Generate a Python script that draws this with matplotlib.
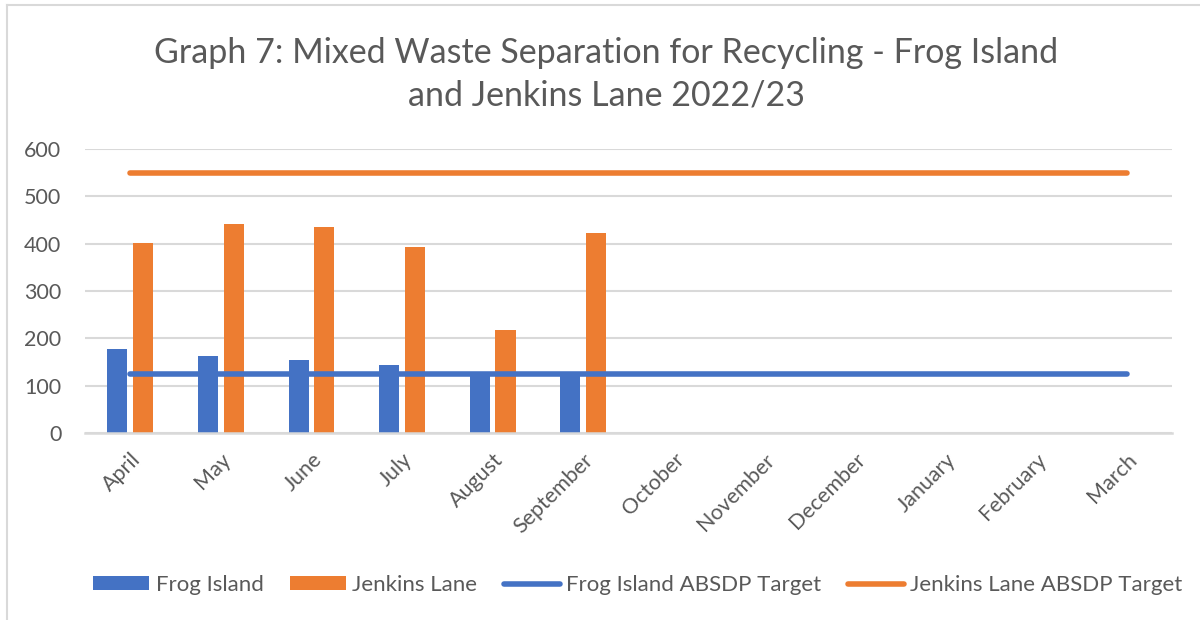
import matplotlib
matplotlib.use("Agg")
import matplotlib.pyplot as plt
import numpy as np
from matplotlib.lines import Line2D
from matplotlib.patches import Patch

months = ["April", "May", "June", "July", "August", "September", "October",
          "November", "December", "January", "February", "March"]
frog_island = [177, 162, 154, 143, 127, 126]
jenkins_lane = [402, 442, 435, 392, 217, 423]
frog_target = [125] * 12
jenkins_target = [550] * 12
yticks = [0, 100, 200, 300, 400, 500, 600]

BLUE = "#4472C4"
ORANGE = "#ED7D31"
TXT = "#595959"
GRID = "#D9D9D9"
FONT = "Lato"

plt.rcParams["font.family"] = [FONT, "DejaVu Sans"]

fig = plt.figure(figsize=(12, 6.2), dpi=100)
ax = fig.add_axes([85 / 1200, 1 - 433 / 620, (1172 - 85) / 1200, (433 - 149) / 620])

x = np.arange(len(months))
w = 0.222
off = 0.142
ax.bar(x[:len(frog_island)] - off, frog_island, width=w, color=BLUE, zorder=2)
ax.bar(x[:len(jenkins_lane)] + off, jenkins_lane, width=w, color=ORANGE, zorder=2)
ax.plot(x, frog_target, color=BLUE, lw=4, solid_capstyle="round", zorder=3)
ax.plot(x, jenkins_target, color=ORANGE, lw=4, solid_capstyle="round", zorder=3)

ax.set_xlim(-0.5, len(months) - 0.5)
ax.set_ylim(0, 600)
ax.set_yticks(yticks)
ax.set_yticklabels([str(v) for v in yticks], fontsize=15.5, color=TXT)
ax.set_xticks(x)
ax.set_xticklabels(months, rotation=45, ha="right", va="top",
                   rotation_mode="anchor", fontsize=15.5, color=TXT)
ax.tick_params(axis="both", length=0)
ax.tick_params(axis="x", pad=12)
ax.tick_params(axis="y", pad=17)
ax.grid(axis="y", color=GRID, lw=1.5, zorder=0)
for s in ["top", "right", "left"]:
    ax.spines[s].set_visible(False)
ax.spines["bottom"].set_color(GRID)
ax.spines["bottom"].set_linewidth(1.8)

fig.text(0.505, 1 - 74 / 620, "Graph 7: Mixed Waste Separation for Recycling - Frog Island\nand Jenkins Lane 2022/23",
         ha="center", va="center", fontsize=24.5, color=TXT, linespacing=1.42)

handles = [
    Patch(facecolor=BLUE, edgecolor="none"),
    Patch(facecolor=ORANGE, edgecolor="none"),
    Line2D([0], [0], color=BLUE, lw=4, solid_capstyle="round"),
    Line2D([0], [0], color=ORANGE, lw=4, solid_capstyle="round"),
]
labels = ["Frog Island", "Jenkins Lane", "Frog Island ABSDP Target", "Jenkins Lane ABSDP Target"]
fig.legend(handles, labels, loc="center", bbox_to_anchor=(638 / 1200, 1 - 585 / 620), ncol=4,
           frameon=False, fontsize=16, labelcolor=TXT, handlelength=2.5, handleheight=0.6,
           handletextpad=0.3, columnspacing=1.2)

# chart border (top and left only visible)
fig.add_artist(Line2D([7 / 1200, 7 / 1200], [0, 1 - 4.5 / 620], transform=fig.transFigure, color=GRID, lw=1.5))
fig.add_artist(Line2D([7 / 1200, 1], [1 - 4.5 / 620, 1 - 4.5 / 620], transform=fig.transFigure, color=GRID, lw=1.5))

fig.savefig("out.png", dpi=100, facecolor="white")
